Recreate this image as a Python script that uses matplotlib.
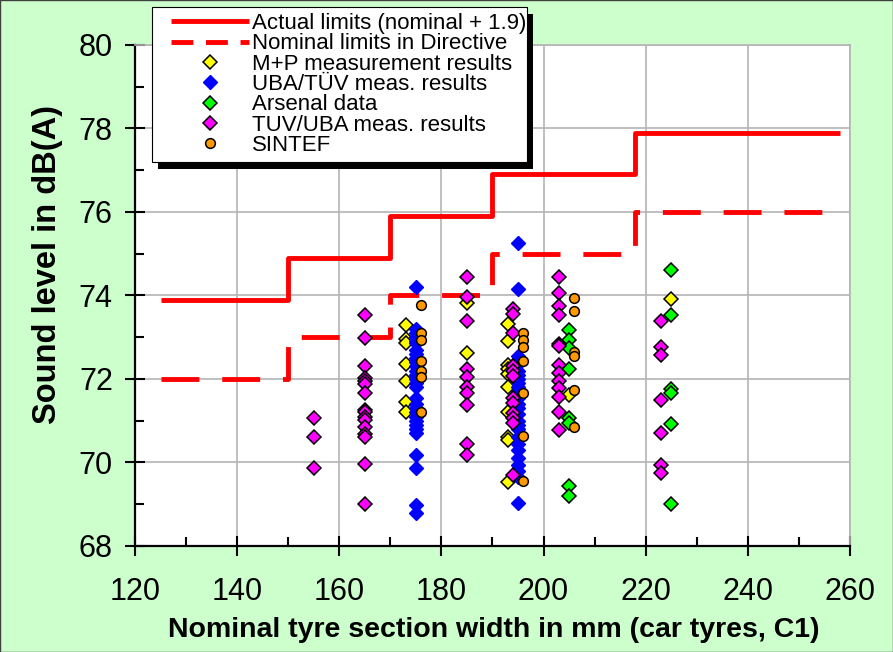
import numpy as np
import matplotlib
matplotlib.use("Agg")
import matplotlib.pyplot as plt
from matplotlib.lines import Line2D
from matplotlib.patches import Rectangle

plt.rcParams['font.family'] = ['Liberation Sans', 'DejaVu Sans']

# limit curves (step positions and levels)
step_x = [125, 150, 170, 190, 218, 258]
nominal_limits = [72.0, 73.0, 74.0, 75.0, 76.0]
actual_limits = [73.9, 74.9, 75.9, 76.9, 77.9]

# M+P measurement results
mp_x = [173] * 7 + [185] * 2 + [193] * 10 + [205, 225]
mp_y = [73.3, 72.95, 72.85, 72.35, 71.95, 71.45, 71.2,
        73.83, 72.63,
        73.32, 72.92, 72.34, 72.25, 72.12, 71.82, 71.22, 70.62, 70.54, 69.54,
        71.62, 73.91]

# UBA/TUV measurement results
uba_175 = [74.2, 73.2, 73.1, 73.0, 72.9, 72.85, 72.7, 72.6, 72.5, 72.4, 72.3,
           72.2, 72.1, 72.0, 71.9, 71.8, 71.55, 71.4, 71.3, 71.2, 71.1, 71.0,
           70.9, 70.8, 70.7, 70.18, 69.86, 68.98, 68.78]
uba_195 = [75.25, 74.15, 72.55, 72.45, 72.35, 72.2, 72.1, 72.0, 71.9, 71.8,
           71.7, 71.55, 71.4, 71.3, 71.15, 71.0, 70.9, 70.8, 70.6, 70.45, 70.3,
           70.1, 69.95, 69.8, 69.65, 69.02]
uba_x = [175] * len(uba_175) + [195] * len(uba_195)
uba_y = uba_175 + uba_195

# Arsenal data
ars_x = [205] * 8 + [225] * 6
ars_y = [73.17, 72.93, 72.74, 72.23, 71.06, 70.94, 69.44, 69.20,
         74.61, 73.53, 71.75, 71.67, 70.92, 69.0]

# TUV/UBA measurement results
tuv_155 = [71.07, 70.6, 69.86]
tuv_165 = [73.54, 72.97, 72.32, 72.02, 71.95, 71.88, 71.67, 71.26, 71.20,
           71.08, 71.02, 70.86, 70.68, 70.62, 69.96, 69.01]
tuv_185 = [74.45, 73.97, 73.40, 72.25, 72.04, 71.82, 71.66, 71.38, 70.44, 70.17]
tuv_194 = [73.67, 73.56, 73.09, 72.30, 72.18, 72.06, 71.54, 71.42, 71.18,
           71.06, 70.94, 69.70]
tuv_203 = [74.44, 74.07, 73.75, 73.53, 72.84, 72.78, 72.34, 72.14, 71.94,
           71.78, 71.58, 71.22, 70.78]
tuv_223 = [73.40, 72.76, 72.57, 71.50, 70.70, 69.94, 69.74]
tuv_x = ([155] * len(tuv_155) + [165] * len(tuv_165) + [185] * len(tuv_185)
         + [194] * len(tuv_194) + [203] * len(tuv_203) + [223] * len(tuv_223))
tuv_y = tuv_155 + tuv_165 + tuv_185 + tuv_194 + tuv_203 + tuv_223

# SINTEF
sin_x = [176] * 7 + [196] * 7 + [206] * 6
sin_y = [73.77, 73.09, 72.93, 72.44, 72.19, 72.04, 71.22,
         73.09, 72.93, 72.77, 72.44, 71.66, 70.63, 69.56,
         73.93, 73.64, 72.65, 72.55, 71.74, 70.84]

labels = ['Actual limits (nominal + 1.9)', 'Nominal limits in Directive',
          'M+P measurement results', 'UBA/TÜV meas. results', 'Arsenal data',
          'TUV/UBA meas. results', 'SINTEF']

fig = plt.figure(figsize=(8.93, 6.52), dpi=100, facecolor='#CCFFCC')
ax = fig.add_axes([0.1512, 0.1626, 0.8006, 0.7684])
ax.set_facecolor('white')

# step lines
sx = np.repeat(step_x, 2)[1:-1]
ax.plot(sx, np.repeat(actual_limits, 2), color='#FF0000', lw=3.5, zorder=3,
        solid_capstyle='butt')
ax.plot(sx, np.repeat(nominal_limits, 2), color='#FF0000', lw=3.5, zorder=3,
        dashes=(7.8, 4.7), dash_capstyle='butt')

mk = dict(marker='D', ms=7, mec='black', mew=1.1, ls='none', zorder=4)
ax.plot(mp_x, mp_y, mfc='#FFFF00', **mk)
ax.plot(uba_x, uba_y, marker='D', ms=7.5, mfc='#0000FF', mec='#0000FF',
        ls='none', zorder=4)
ax.plot(ars_x, ars_y, mfc='#00FF00', **mk)
ax.plot(tuv_x, tuv_y, mfc='#FF00FF', **mk)
ax.plot(sin_x, sin_y, marker='o', ms=7, mfc='#FF9900', mec='black', mew=1.1,
        ls='none', zorder=4)

ax.set_xlim(120, 260)
ax.set_ylim(68, 80)
ax.set_xticks(np.arange(120, 261, 20))
ax.set_xticks(np.arange(130, 260, 20), minor=True)
ax.set_yticks(np.arange(68, 81, 2))
ax.set_yticks(np.arange(69, 80, 2), minor=True)
ax.grid(True, which='major', color='#B4B4B4', lw=1.2)
ax.set_axisbelow(True)
ax.tick_params(which='major', direction='inout', length=14, width=1.5,
               labelsize=22)
ax.tick_params(which='minor', direction='in', length=6.5, width=1.5)
ax.tick_params(axis='y', which='major', pad=9)
ax.tick_params(axis='x', which='major', pad=15)
for s in ['left', 'bottom']:
    ax.spines[s].set_linewidth(1.6)
for s in ['top', 'right']:
    ax.spines[s].set_color('#B4B4B4')
    ax.spines[s].set_linewidth(1.2)

ax.set_xlabel('Nominal tyre section width in mm (car tyres, C1)',
              fontsize=20.5, fontweight='bold')
ax.set_ylabel('Sound level in dB(A)', fontsize=23.5, fontweight='bold',
              va='center')
ax.xaxis.set_label_coords(0.502, -0.142)
ax.yaxis.set_label_coords(-0.122, 0.561)

# legend box with shadow
W, H = 893.0, 652.0
fig.patches.append(Rectangle((158 / W, 1 - 169 / H), 375 / W, 155 / H,
                             transform=fig.transFigure, facecolor='black',
                             edgecolor='none', zorder=2))
fig.patches.append(Rectangle((152 / W, 1 - 162 / H), 375 / W, 155 / H,
                             transform=fig.transFigure, facecolor='white',
                             edgecolor='black', lw=0.8, zorder=3))

handles = [
    Line2D([], [], color='#FF0000', lw=3.5, solid_capstyle='butt'),
    Line2D([], [], color='#FF0000', lw=3.5, dashes=(4.5, 2.6)),
    Line2D([], [], marker='D', ms=7, mfc='#FFFF00', mec='black', mew=1.1, ls='none'),
    Line2D([], [], marker='D', ms=7.5, mfc='#0000FF', mec='#0000FF', ls='none'),
    Line2D([], [], marker='D', ms=7, mfc='#00FF00', mec='black', mew=1.1, ls='none'),
    Line2D([], [], marker='D', ms=7, mfc='#FF00FF', mec='black', mew=1.1, ls='none'),
    Line2D([], [], marker='o', ms=7, mfc='#FF9900', mec='black', mew=1.1, ls='none'),
]
fig.legend(handles, labels, loc='upper left',
           bbox_to_anchor=(171 / W, 1 - 13 / H), bbox_transform=fig.transFigure,
           frameon=False, borderpad=0, borderaxespad=0, fontsize=16,
           labelspacing=-0.03, handlelength=3.5, handletextpad=0.15)

fig.patches.append(Rectangle((0, 0), 1, 1, transform=fig.transFigure,
                             facecolor='none', edgecolor='#404040', lw=1.0,
                             zorder=10))

fig.savefig('out.png', dpi=100, facecolor=fig.get_facecolor())
